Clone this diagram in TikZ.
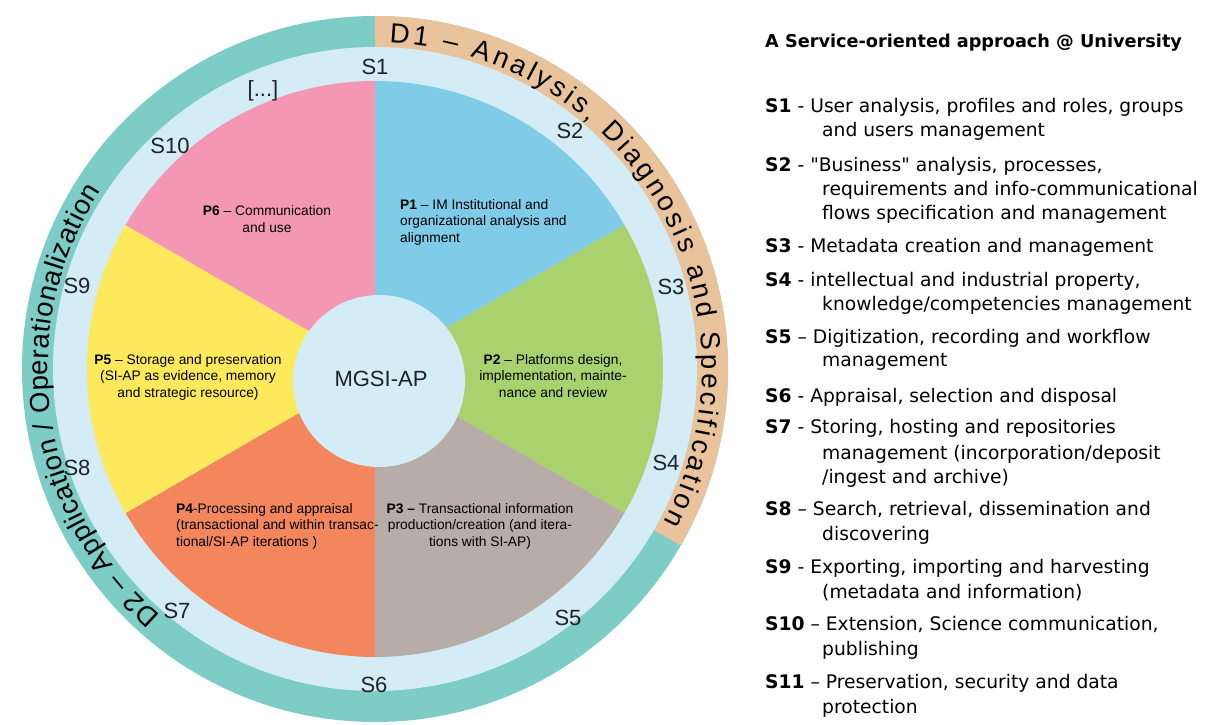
\documentclass[tikz,border=0pt]{standalone}
\usepackage{fontspec}
\setmainfont{Liberation Sans}
\newfontfamily\ringfam{Liberation Sans}
\newfontfamily\listfont[Ligatures=TeXOff]{DejaVu Sans}
\usetikzlibrary{decorations.text}
\definecolor{ringteal}{HTML}{7DCCC5}
\definecolor{ringbeige}{HTML}{E8C39C}
\definecolor{bandblue}{HTML}{D3ECF5}
\definecolor{pone}{HTML}{80CCE8}
\definecolor{ptwo}{HTML}{A9D16E}
\definecolor{pthree}{HTML}{B7ACA7}
\definecolor{pfour}{HTML}{F4865E}
\definecolor{pfive}{HTML}{FDE95B}
\definecolor{psix}{HTML}{F397B5}
\definecolor{textdark}{HTML}{1E2328}
\newcommand\ringfont{\ringfam\fontsize{27.5}{27.5}\selectfont}
\begin{document}
\begin{tikzpicture}[x=1pt,y=1pt,
  ptext/.style={font=\fontsize{13.8}{16.5}\selectfont, text=black, inner sep=0pt},
  slabel/.style={font=\fontsize{22}{22}\selectfont, text=textdark, inner sep=0pt},
  listtxt/.style={font=\listfont\fontsize{18.7}{22}\selectfont, text=black, anchor=base west, inner sep=0pt},
  ringtext/.style={decorate, decoration={text along path, text={|\ringfont|#1}, text align={fit to path}}}
]
\useasboundingbox (0,0) rectangle (1210,724);
\coordinate (C) at (375,355);
% outer ring
\fill[ringteal] (C) circle[radius=353];
\fill[ringbeige] (C) -- ++(90:353) arc[start angle=90,end angle=-30,radius=353] -- cycle;
% light blue band
\fill[bandblue] (C) circle[radius=322];
% sectors
\fill[pone]   (C) -- ++(90:288)  arc[start angle=90,end angle=30,radius=288] -- cycle;
\fill[ptwo]   (C) -- ++(30:288)  arc[start angle=30,end angle=-30,radius=288] -- cycle;
\fill[pthree] (C) -- ++(-30:288) arc[start angle=-30,end angle=-90,radius=288] -- cycle;
\fill[pfour]  (C) -- ++(-90:288) arc[start angle=-90,end angle=-150,radius=288] -- cycle;
\fill[pfive]  (C) -- ++(210:288) arc[start angle=210,end angle=150,radius=288] -- cycle;
\fill[psix]   (C) -- ++(150:288) arc[start angle=150,end angle=90,radius=288] -- cycle;
% centre circle
\fill[bandblue] (379,343) circle[radius=86];
\node[slabel] (core) at (381,345) {MGSI-AP};
% ring texts
\path[shift={(375,355)}, ringtext={D1 – Analysis{,} Diagnosis and Specification}]
  (87.5:327) arc[start angle=87.5,end angle=-28,radius=327];
\path[shift={(375,355)}, ringtext={D2 – Application / Operationalization}]
  (229:327) arc[start angle=229,end angle=147,radius=327];
% S labels
\node[slabel] (S1) at (375,657) {S1};
\node[slabel] (S2) at (570,593) {S2};
\node[slabel] (S3) at (671,437) {S3};
\node[slabel] (S4) at (666,261) {S4};
\node[slabel] (S5) at (568,106) {S5};
\node[slabel] (S6) at (374,39) {S6};
\node[slabel] (S7) at (177,113) {S7};
\node[slabel] (S8) at (77,256) {S8};
\node[slabel] (S9) at (77,438) {S9};
\node[slabel] (S10) at (170,578) {S10};
\node[slabel] (Sx) at (263,633) {[...]};
% sector texts
\node[ptext, align=left, anchor=west] (P1) at (400,502) {\textbf{P1} – IM Institutional and\\organizational analysis and\\alignment};
\node[ptext, align=center] (P2) at (553,348) {\textbf{P2} – Platforms design,\\implementation, mainte-\\nance and review};
\node[ptext, align=center] (P3) at (480,198) {\textbf{P3 –} Transactional information\\production/creation (and itera-\\tions with SI-AP)};
\node[ptext, align=left, anchor=west] (P4) at (176,198) {\textbf{P4}-Processing and appraisal\\(transactional and within transac-\\tional/SI-AP iterations )};
\node[ptext, align=center] (P5) at (188,347) {\textbf{P5} – Storage and preservation\\(SI-AP as evidence, memory\\and strategic resource)};
\node[ptext, align=center] (P6) at (267,505) {\textbf{P6} – Communication\\and use};
% right list
\node[listtxt, font=\listfont\bfseries\fontsize{17.7}{20}\selectfont] (title) at (765,676) {A Service-oriented approach @ University};
\node[listtxt] (l1a) at (765,611) {\textbf{S1} - User analysis, profiles and roles, groups};
\node[listtxt] (l1b) at (822,587) {and users management};
\node[listtxt] (l2a) at (765,552) {\textbf{S2} - "Business" analysis, processes,};
\node[listtxt] (l2b) at (822,528) {requirements and info-communicational};
\node[listtxt] (l2c) at (822,504) {flows specification and management};
\node[listtxt] (l3a) at (765,471) {\textbf{S3} - Metadata creation and management};
\node[listtxt] (l4a) at (765,437) {\textbf{S4} - intellectual and industrial property,};
\node[listtxt] (l4b) at (822,413) {knowledge/competencies management};
\node[listtxt] (l5a) at (765,381) {\textbf{S5} – Digitization, recording and workflow};
\node[listtxt] (l5b) at (822,357) {management};
\node[listtxt] (l6a) at (765,322) {\textbf{S6} - Appraisal, selection and disposal};
\node[listtxt] (l7a) at (765,291) {\textbf{S7} - Storing, hosting and repositories};
\node[listtxt] (l7b) at (822,265) {management (incorporation/deposit};
\node[listtxt] (l7c) at (822,241) {/ingest and archive)};
\node[listtxt] (l8a) at (765,209) {\textbf{S8} – Search, retrieval, dissemination and};
\node[listtxt] (l8b) at (822,184) {discovering};
\node[listtxt] (l9a) at (765,151) {\textbf{S9} - Exporting, importing and harvesting};
\node[listtxt] (l9b) at (822,126) {(metadata and information)};
\node[listtxt] (l10a) at (765,94) {\textbf{S10} – Extension, Science communication,};
\node[listtxt] (l10b) at (822,69) {publishing};
\node[listtxt] (l11a) at (765,36) {\textbf{S11} – Preservation, security and data};
\node[listtxt] (l11b) at (822,11) {protection};
\end{tikzpicture}
\end{document}
